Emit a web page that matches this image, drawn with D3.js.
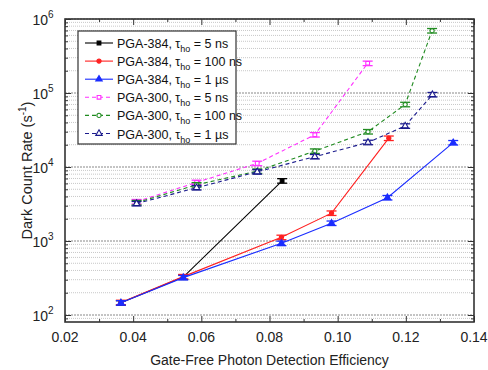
<!DOCTYPE html>
<html>
<head>
<meta charset="utf-8">
<script src="https://cdn.jsdelivr.net/npm/d3@7"></script>
<style>
  body { margin: 0; background: #fff; }
  text { font-family: "Liberation Sans", Arial, sans-serif; }
</style>
</head>
<body>
<div id="chart"></div>
<script>
// data
var pga384_5ns_x   = [0.0364, 0.0547, 0.0837];
var pga384_5ns_y   = [146, 325, 6500];
var pga384_100ns_x = [0.0364, 0.0547, 0.0835, 0.0982, 0.1150];
var pga384_100ns_y = [148, 330, 1120, 2380, 24500];
var pga384_1us_x   = [0.0364, 0.0547, 0.0835, 0.0982, 0.1146, 0.1339];
var pga384_1us_y   = [146, 320, 930, 1740, 3850, 21300];
var pga300_5ns_x   = [0.0410, 0.0586, 0.0764, 0.0933, 0.1088];
var pga300_5ns_y   = [3400, 6200, 11200, 27300, 252000];
var pga300_100ns_x = [0.0410, 0.0586, 0.0764, 0.0933, 0.1089, 0.1198, 0.1277];
var pga300_100ns_y = [3300, 5750, 8800, 16400, 30000, 70000, 695000];
var pga300_1us_x   = [0.0410, 0.0586, 0.0764, 0.0933, 0.1089, 0.1198, 0.1278];
var pga300_1us_y   = [3200, 5250, 8600, 13800, 21500, 35800, 95000];
var relErr = 0.07;

var xTicks = [0.02, 0.04, 0.06, 0.08, 0.10, 0.12, 0.14];
var yTicks = [100, 1000, 10000, 100000, 1000000];

var margin = {top: 19, right: 14, bottom: 48, left: 65},
    width = 488 - margin.left - margin.right,
    height = 370 - margin.top - margin.bottom;

var svg = d3.select("#chart").append("svg")
    .attr("width", 488).attr("height", 370)
  .append("g")
    .attr("transform", "translate(" + margin.left + "," + margin.top + ")");

var x = d3.scaleLinear().domain([0.02, 0.14]).range([0, width]);
var y = d3.scaleLog().domain([10 ** (2 - 7 / 74), 1e6]).range([height, 0]);

// grid lines
var minorVals = [];
[1e1, 1e2, 1e3, 1e4, 1e5].forEach(function(dec) {
  for (var k = 2; k <= 9; k++) {
    var v = dec * k;
    if (v >= y.domain()[0] && v <= 1e6) minorVals.push(v);
  }
});
svg.selectAll(".gminor").data(minorVals).enter().append("line")
  .attr("x1", 0).attr("x2", width)
  .attr("y1", function(d) { return y(d); }).attr("y2", function(d) { return y(d); })
  .attr("stroke", "#c8c8c8").attr("stroke-width", 1).attr("stroke-dasharray", "1,1");
svg.selectAll(".gmajor").data(yTicks).enter().append("line")
  .attr("x1", 0).attr("x2", width)
  .attr("y1", function(d) { return y(d); }).attr("y2", function(d) { return y(d); })
  .attr("stroke", "#888").attr("stroke-width", 1).attr("stroke-dasharray", "2,1");

// axes, ticks pointing inward
var xMinor = d3.range(0.03, 0.14, 0.02);
function xAxis(g, dir) {
  g.append("g").call((dir > 0 ? d3.axisBottom(x) : d3.axisTop(x)).tickValues(xTicks).tickSize(-6).tickFormat(""));
  g.append("g").call((dir > 0 ? d3.axisBottom(x) : d3.axisTop(x)).tickValues(xMinor).tickSize(-3).tickFormat(""));
}
var axBottom = svg.append("g").attr("transform", "translate(0," + height + ")");
xAxis(axBottom, 1);
var axTop = svg.append("g");
xAxis(axTop, -1);
function yAxis(g, left) {
  g.append("g").call((left ? d3.axisLeft(y) : d3.axisRight(y)).tickValues(yTicks).tickSize(-6).tickFormat(""));
  g.append("g").call((left ? d3.axisLeft(y) : d3.axisRight(y)).tickValues(minorVals).tickSize(-3).tickFormat(""));
}
yAxis(svg.append("g"), true);
yAxis(svg.append("g").attr("transform", "translate(" + width + ",0)"), false);
svg.selectAll(".domain").remove();
svg.selectAll(".tick line").attr("stroke", "#333");

svg.append("rect").attr("width", width).attr("height", height)
  .attr("fill", "none").attr("stroke", "#333").attr("stroke-width", 1.6);

// tick labels
svg.selectAll(".xl").data(xTicks).enter().append("text")
  .attr("x", function(d) { return x(d); }).attr("y", height + 20)
  .attr("text-anchor", "middle").attr("font-size", 14).attr("fill", "#222")
  .text(function(d) { return d.toFixed(2); });
var yl = svg.selectAll(".yl").data(yTicks).enter().append("text")
  .attr("x", -22).attr("y", function(d) { return y(d) + 6; })
  .attr("text-anchor", "middle").attr("font-size", 14).attr("fill", "#222");
yl.append("tspan").text("10");
yl.append("tspan").attr("dy", -7).attr("font-size", 10)
  .text(function(d) { return Math.round(Math.log10(d)); });

// axis titles
svg.append("text").attr("x", width / 2).attr("y", height + 43)
  .attr("text-anchor", "middle").attr("font-size", 14).attr("fill", "#222")
  .text("Gate-Free Photon Detection Efficiency");
var yt = svg.append("text")
  .attr("transform", "translate(" + (-33) + "," + (height / 2) + ") rotate(-90)")
  .attr("text-anchor", "middle").attr("font-size", 14.5).attr("fill", "#222");
yt.append("tspan").text("Dark Count Rate (s");
yt.append("tspan").attr("dy", -6).attr("font-size", 10).text("-1");
yt.append("tspan").attr("dy", 6).text(")");

var series = [
  {name: "PGA-384", tau: "5 ns",   xs: pga384_5ns_x,   ys: pga384_5ns_y,   color: "#000000", dash: null,  shape: "square",   open: false},
  {name: "PGA-384", tau: "100 ns", xs: pga384_100ns_x, ys: pga384_100ns_y, color: "#ff2020", dash: null,  shape: "circle",   open: false},
  {name: "PGA-384", tau: "1 µs",   xs: pga384_1us_x,   ys: pga384_1us_y,   color: "#1a2cff", dash: null,  shape: "triangle", open: false},
  {name: "PGA-300", tau: "5 ns",   xs: pga300_5ns_x,   ys: pga300_5ns_y,   color: "#ff30ff", dash: "4,3", shape: "square",   open: true},
  {name: "PGA-300", tau: "100 ns", xs: pga300_100ns_x, ys: pga300_100ns_y, color: "#1f8a1f", dash: "4,3", shape: "circle",   open: true},
  {name: "PGA-300", tau: "1 µs",   xs: pga300_1us_x,   ys: pga300_1us_y,   color: "#1a1a8c", dash: "4,3", shape: "triangle", open: true}
];

function symbolOf(s) {
  var t = s.shape === "square" ? d3.symbolSquare : s.shape === "circle" ? d3.symbolCircle : d3.symbolTriangle;
  return d3.symbol().type(t).size(s.shape === "triangle" ? 18 : 14)();
}

var line = d3.line().x(function(d) { return x(d[0]); }).y(function(d) { return y(d[1]); });

series.forEach(function(s) {
  var pts = s.xs.map(function(v, i) { return [v, s.ys[i]]; });
  svg.append("path").datum(pts).attr("d", line)
    .attr("fill", "none").attr("stroke", s.color).attr("stroke-width", 1.1)
    .attr("stroke-dasharray", s.dash);
  var g = svg.selectAll(null).data(pts).enter().append("g")
    .attr("transform", function(d) { return "translate(" + x(d[0]) + ",0)"; });
  g.append("line")
    .attr("y1", function(d) { return y(d[1] * (1 - relErr)); })
    .attr("y2", function(d) { return y(d[1] * (1 + relErr)); })
    .attr("stroke", s.color).attr("stroke-width", 1.2);
  [1 - relErr, 1 + relErr].forEach(function(f) {
    g.append("line").attr("x1", -5).attr("x2", 5)
      .attr("y1", function(d) { return y(d[1] * f); })
      .attr("y2", function(d) { return y(d[1] * f); })
      .attr("stroke", s.color).attr("stroke-width", 1.3);
  });
  g.append("path").attr("d", symbolOf(s))
    .attr("transform", function(d) { return "translate(0," + y(d[1]) + ")"; })
    .attr("fill", s.open ? "#fff" : s.color).attr("stroke", s.color).attr("stroke-width", 1.1);
});

// legend
var leg = svg.append("g").attr("transform", "translate(" + (78 - margin.left) + "," + (31 - margin.top) + ")");
leg.append("rect").attr("width", 158).attr("height", 113)
  .attr("fill", "#fff").attr("stroke", "#333").attr("stroke-width", 1.2);
series.forEach(function(s, i) {
  var row = leg.append("g").attr("transform", "translate(0," + (12 + i * 18.1) + ")");
  row.append("line").attr("x1", 7).attr("x2", 35)
    .attr("stroke", s.color).attr("stroke-width", 1.1).attr("stroke-dasharray", s.dash);
  row.append("path").attr("d", symbolOf(s)).attr("transform", "translate(21,0)")
    .attr("fill", s.open ? "#fff" : s.color).attr("stroke", s.color).attr("stroke-width", 1.1);
  var t = row.append("text").attr("x", 39).attr("y", 5).attr("font-size", 12.5).attr("fill", "#111");
  t.append("tspan").text(s.name + ", τ");
  t.append("tspan").attr("dy", 4).attr("font-size", 9).text("ho");
  t.append("tspan").attr("dy", -4).text(" = " + s.tau);
});
</script>
</body>
</html>
